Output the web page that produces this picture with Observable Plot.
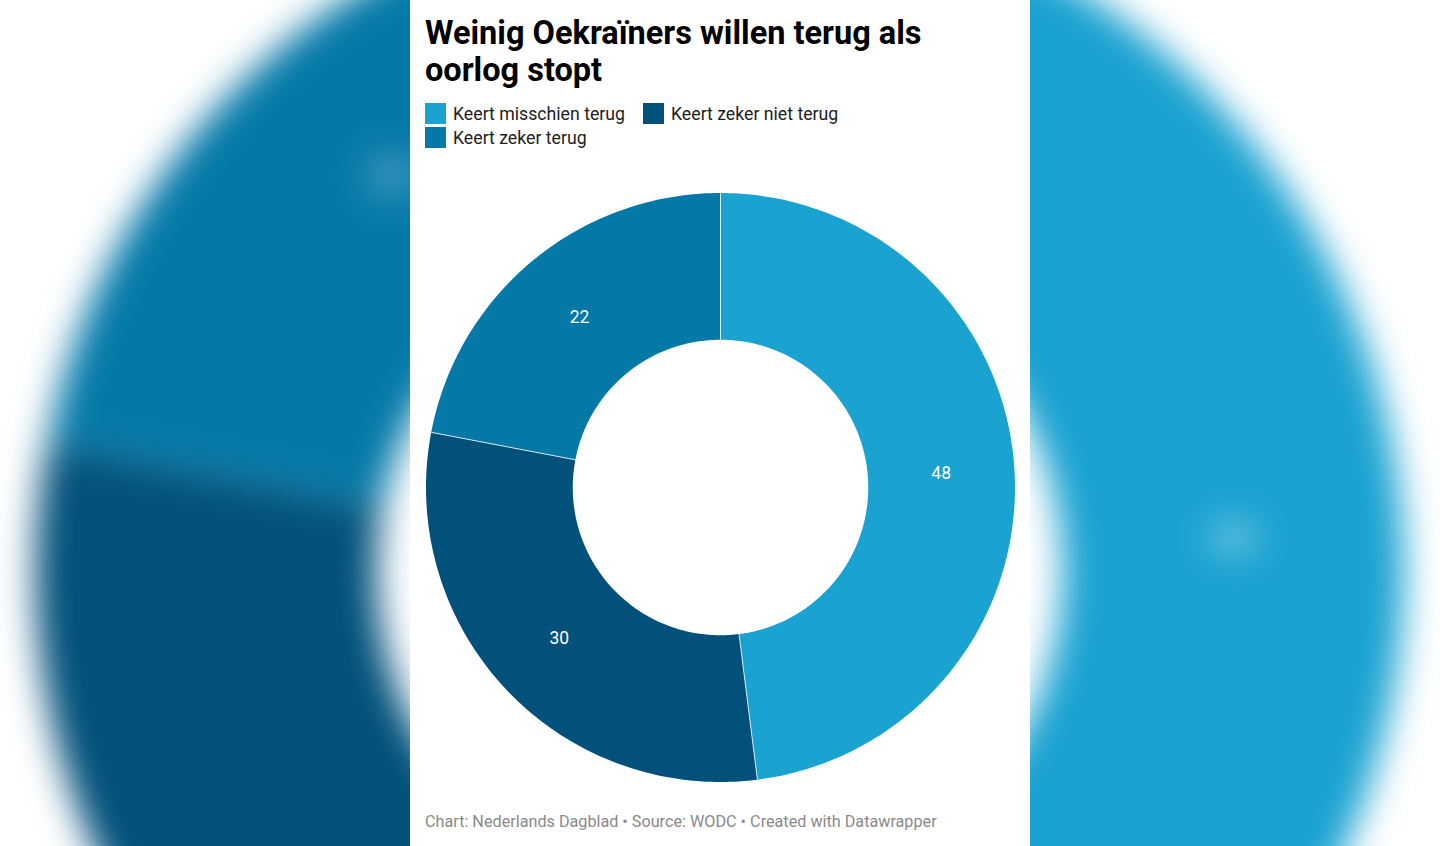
<!DOCTYPE html>
<html lang="nl">
<head>
<meta charset="utf-8">
<title>Weinig Oekraïners willen terug als oorlog stopt</title>
<script src="https://cdn.jsdelivr.net/npm/d3@7"></script>
<script src="https://cdn.jsdelivr.net/npm/@observablehq/plot@0.6"></script>
<style>
  html, body { margin: 0; padding: 0; width: 1440px; height: 846px; overflow: hidden; background: #fff; font-family: Roboto, sans-serif; }
  #bg { position: absolute; left: -1px; top: -149px; width: 1440px; height: 1440px; filter: blur(18px); }
  #panel { position: absolute; left: 410px; top: 0; width: 620px; height: 846px; background: #fff; overflow: hidden; }
  #title { position: absolute; left: 15px; top: 15px; width: 530px; margin: 0; font-size: 32.5px; line-height: 37px; font-weight: 700; color: #000; }
  .item { position: absolute; display: flex; align-items: center; font-size: 17.7px; line-height: 24px; color: #1d1d1d; white-space: nowrap; }
  .swatch { width: 21px; height: 21px; margin-right: 7px; }
  #chart { position: absolute; left: -0.5px; top: 176.5px; width: 620px; height: 620px; }
  #foot { position: absolute; left: 15px; top: 812px; font-size: 16.2px; line-height: 20px; color: #8a8a8a; white-space: nowrap; }
  svg { display: block; }
</style>
</head>
<body>
<div id="bg" aria-hidden="true"></div>
<div id="panel">
  <h1 id="title"></h1>
  <div id="legend"></div>
  <div id="chart"></div>
  <div id="foot"></div>
</div>
<script>
const titleText = "Weinig Oekraïners willen terug als oorlog stopt";
const footText = "Chart: Nederlands Dagblad • Source: WODC • Created with Datawrapper";
const categories = ["Keert misschien terug", "Keert zeker niet terug", "Keert zeker terug"];
const values = [48, 30, 22];
const colors = ["#1aa2d0", "#02517b", "#0479a8"];
const legendSlots = [[15, 101.5], [233, 101.5], [15, 125.5]];
const innerShare = 148 / 295;

const total = d3.sum(values);
const angleOf = d3.scaleLinear().domain([0, total]).range([0, 2 * Math.PI]);
const polar = (a, r) => ({x: r * Math.sin(a), y: r * Math.cos(a)});

let running = 0;
const slices = categories.map((category, i) => {
  const start = running;
  running += values[i];
  return {category, value: values[i], start, end: running};
});

const outline = slices.flatMap(s => {
  const steps = Math.ceil(s.value * 4);
  const arc = d3.range(steps + 1).map(k => s.start + (s.value * k) / steps);
  const pts = [
    ...arc.map(v => polar(angleOf(v), 1)),
    ...arc.slice().reverse().map(v => polar(angleOf(v), innerShare))
  ];
  return pts.map(p => ({...p, category: s.category}));
});
const spokes = slices.map(s => {
  const a = polar(angleOf(s.start), innerShare), b = polar(angleOf(s.start), 1);
  return {x1: a.x, y1: a.y, x2: b.x, y2: b.y};
});
const labels = slices.map(s => ({
  ...polar(angleOf((s.start + s.end) / 2), (1 + innerShare) / 2),
  text: String(s.value)
}));

function donut(size, k, labelRows) {
  const m = 15.5 * k;
  return Plot.plot({
    width: size,
    height: size,
    marginTop: m, marginBottom: m, marginLeft: m, marginRight: m,
    x: {domain: [-1, 1], axis: null},
    y: {domain: [-1, 1], axis: null},
    color: {domain: categories, range: colors},
    style: {background: "transparent", fontFamily: "Roboto, sans-serif"},
    marks: [
      Plot.line(outline, {x: "x", y: "y", z: "category", fill: "category", stroke: "none"}),
      Plot.link(spokes, {x1: "x1", y1: "y1", x2: "x2", y2: "y2", stroke: "#fff", strokeWidth: k, strokeOpacity: 0.8}),
      Plot.text(labelRows, {x: "x", y: "y", text: "text", fill: "#fff", fontSize: 17.5 * k})
    ]
  });
}

document.getElementById("title").textContent = titleText;
document.getElementById("foot").textContent = footText;
const legend = document.getElementById("legend");
categories.forEach((c, i) => {
  const el = document.createElement("div");
  el.className = "item";
  el.style.left = legendSlots[i][0] + "px";
  el.style.top = legendSlots[i][1] + "px";
  const sw = document.createElement("span");
  sw.className = "swatch";
  sw.style.background = colors[i];
  el.appendChild(sw);
  el.appendChild(document.createTextNode(c));
  legend.appendChild(el);
});
document.getElementById("chart").appendChild(donut(620, 1, labels));
// The enlarged backdrop only shows the labels that fall inside the window.
document.getElementById("bg").appendChild(donut(1440, 1440 / 620, labels.filter(l => l.y > -0.4)));
</script>
</body>
</html>
